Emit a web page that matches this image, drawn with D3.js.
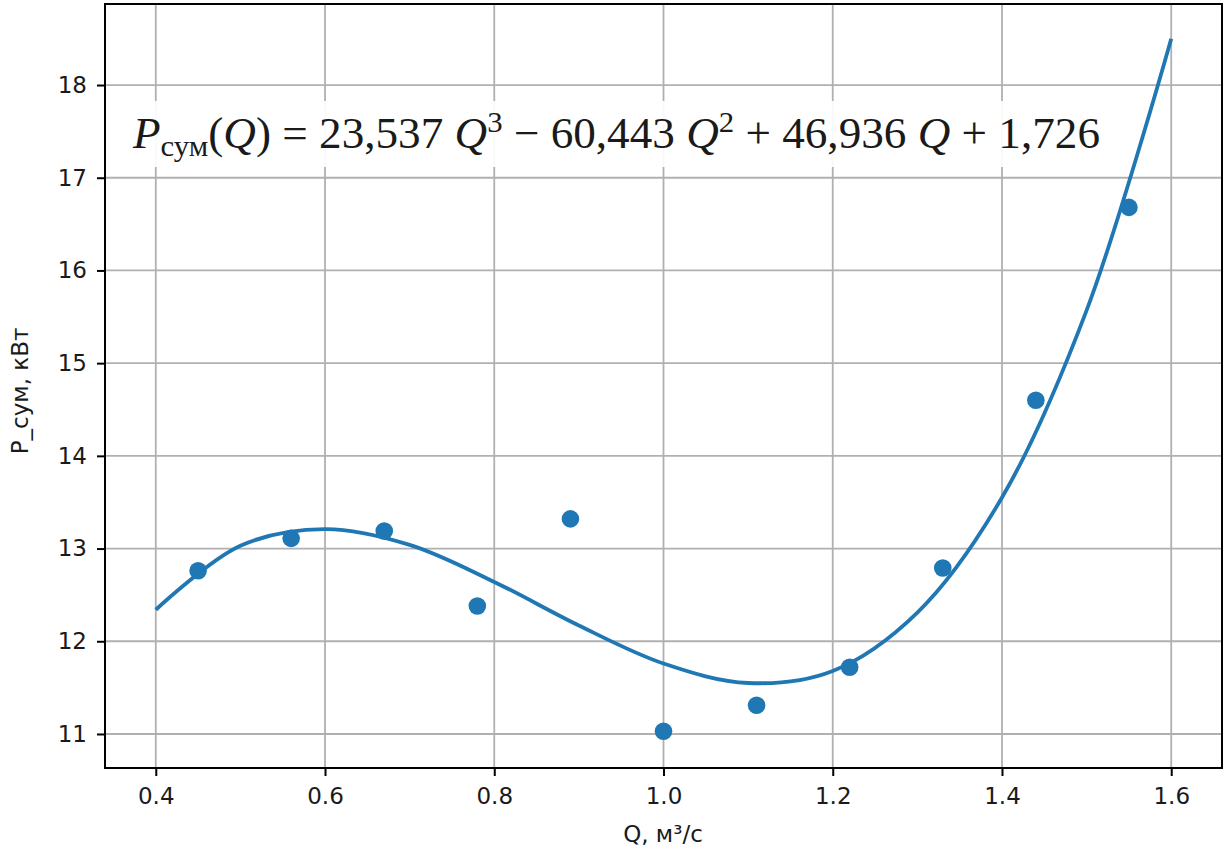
<!DOCTYPE html>
<html>
<head>
<meta charset="utf-8">
<script src="https://d3js.org/d3.v7.min.js"></script>
<style>
  body { margin: 0; background: #fff; }
  text { font-family: "DejaVu Sans", sans-serif; }
</style>
</head>
<body>
<svg class="target" width="1229" height="856"></svg>
<script>

// scatter points
const qPoints = [0.45, 0.56, 0.67, 0.78, 0.89, 1.00, 1.11, 1.22, 1.33, 1.44, 1.55]
const pPoints = [12.76, 13.11, 13.19, 12.38, 13.32, 11.03, 11.31, 11.72, 12.79, 14.60, 16.68]

// fitted curve
const qCurve = [0.4, 0.5, 0.6, 0.7, 0.8, 0.9, 1.0, 1.1, 1.2, 1.3, 1.4, 1.5, 1.6]
const pCurve = [12.34, 13.03, 13.21, 13.04, 12.64, 12.17, 11.76, 11.55, 11.68, 12.31, 13.55, 15.57, 18.50]

const xTicks = [0.4, 0.6, 0.8, 1.0, 1.2, 1.4, 1.6]
const yTicks = [11, 12, 13, 14, 15, 16, 17, 18]

const blue = '#1f77b4'

const plot = { left: 105, right: 1222, top: 4, bottom: 768 }

const x = d3.scaleLinear().domain([0.34, 1.66]).range([plot.left, plot.right])
const y = d3.scaleLinear().domain([10.633, 18.874]).range([plot.bottom, plot.top])

const svg = d3.select('.target')

// grid
svg.append('g')
  .selectAll('line')
  .data(xTicks)
  .join('line')
    .attr('x1', d => x(d)).attr('x2', d => x(d))
    .attr('y1', plot.top).attr('y2', plot.bottom)
    .attr('stroke', '#b0b0b0').attr('stroke-width', 1.8)

svg.append('g')
  .selectAll('line')
  .data(yTicks)
  .join('line')
    .attr('x1', plot.left).attr('x2', plot.right)
    .attr('y1', d => y(d)).attr('y2', d => y(d))
    .attr('stroke', '#b0b0b0').attr('stroke-width', 1.8)

// axes
const xAxis = svg.append('g')
  .attr('transform', `translate(0,${plot.bottom})`)
  .call(d3.axisBottom(x).tickValues(xTicks).tickFormat(d3.format('.1f')).tickSize(8).tickPadding(12))
const yAxis = svg.append('g')
  .attr('transform', `translate(${plot.left},0)`)
  .call(d3.axisLeft(y).tickValues(yTicks).tickSize(8).tickPadding(10))

for (const ax of [xAxis, yAxis]) {
  ax.select('.domain').remove()
  ax.selectAll('line').attr('stroke', '#000').attr('stroke-width', 2)
  ax.selectAll('text').attr('fill', '#1a1a1a').style('font-size', '23px').style('font-family', '"DejaVu Sans", sans-serif')
}

// fitted line
const line = d3.line()
  .x((d, i) => x(qCurve[i]))
  .y(d => y(d))
  .curve(d3.curveCatmullRom.alpha(0.5))

svg.append('path')
  .attr('d', line(pCurve))
  .attr('fill', 'none')
  .attr('stroke', blue)
  .attr('stroke-width', 3.8)

// data points
svg.append('g')
  .selectAll('circle')
  .data(pPoints)
  .join('circle')
    .attr('cx', (d, i) => x(qPoints[i]))
    .attr('cy', d => y(d))
    .attr('r', 8.8)
    .attr('fill', blue)

// formula with white box
svg.append('rect')
  .attr('x', 120).attr('y', 101)
  .attr('width', 992).attr('height', 66)
  .attr('fill', '#fff').attr('opacity', 0.92)

const f = svg.append('text')
  .attr('x', 133).attr('y', 148)
  .attr('textLength', 967)
  .attr('lengthAdjust', 'spacingAndGlyphs')
  .style('font-family', '"Liberation Serif", serif')
  .style('font-size', '44px')
  .attr('fill', '#1a1a1a')

const parts = [
  ['P', 'italic', 0, 44],
  ['сум', 'normal', 8, 30],
  ['(', 'normal', -8, 44],
  ['Q', 'italic', 0, 44],
  [') = 23,537 ', 'normal', 0, 44],
  ['Q', 'italic', 0, 44],
  ['3', 'normal', -16, 30],
  [' − 60,443 ', 'normal', 16, 44],
  ['Q', 'italic', 0, 44],
  ['2', 'normal', -16, 30],
  [' + 46,936 ', 'normal', 16, 44],
  ['Q', 'italic', 0, 44],
  [' + 1,726', 'normal', 0, 44]
]
parts.forEach(p => {
  f.append('tspan')
    .attr('dy', p[2])
    .style('font-style', p[1])
    .style('font-size', p[3] + 'px')
    .text(p[0])
})

// frame
svg.append('rect')
  .attr('x', plot.left).attr('y', plot.top)
  .attr('width', plot.right - plot.left).attr('height', plot.bottom - plot.top)
  .attr('fill', 'none').attr('stroke', '#000').attr('stroke-width', 2)

// axis labels
svg.append('text')
  .attr('x', 663).attr('y', 842)
  .attr('text-anchor', 'middle')
  .style('font-size', '23px').attr('fill', '#1a1a1a')
  .text('Q, м³/с')

svg.append('text')
  .attr('transform', 'translate(28,391) rotate(-90)')
  .attr('text-anchor', 'middle')
  .style('font-size', '23px').attr('fill', '#1a1a1a')
  .text('P_сум, кВт')

</script>
</body>
</html>
